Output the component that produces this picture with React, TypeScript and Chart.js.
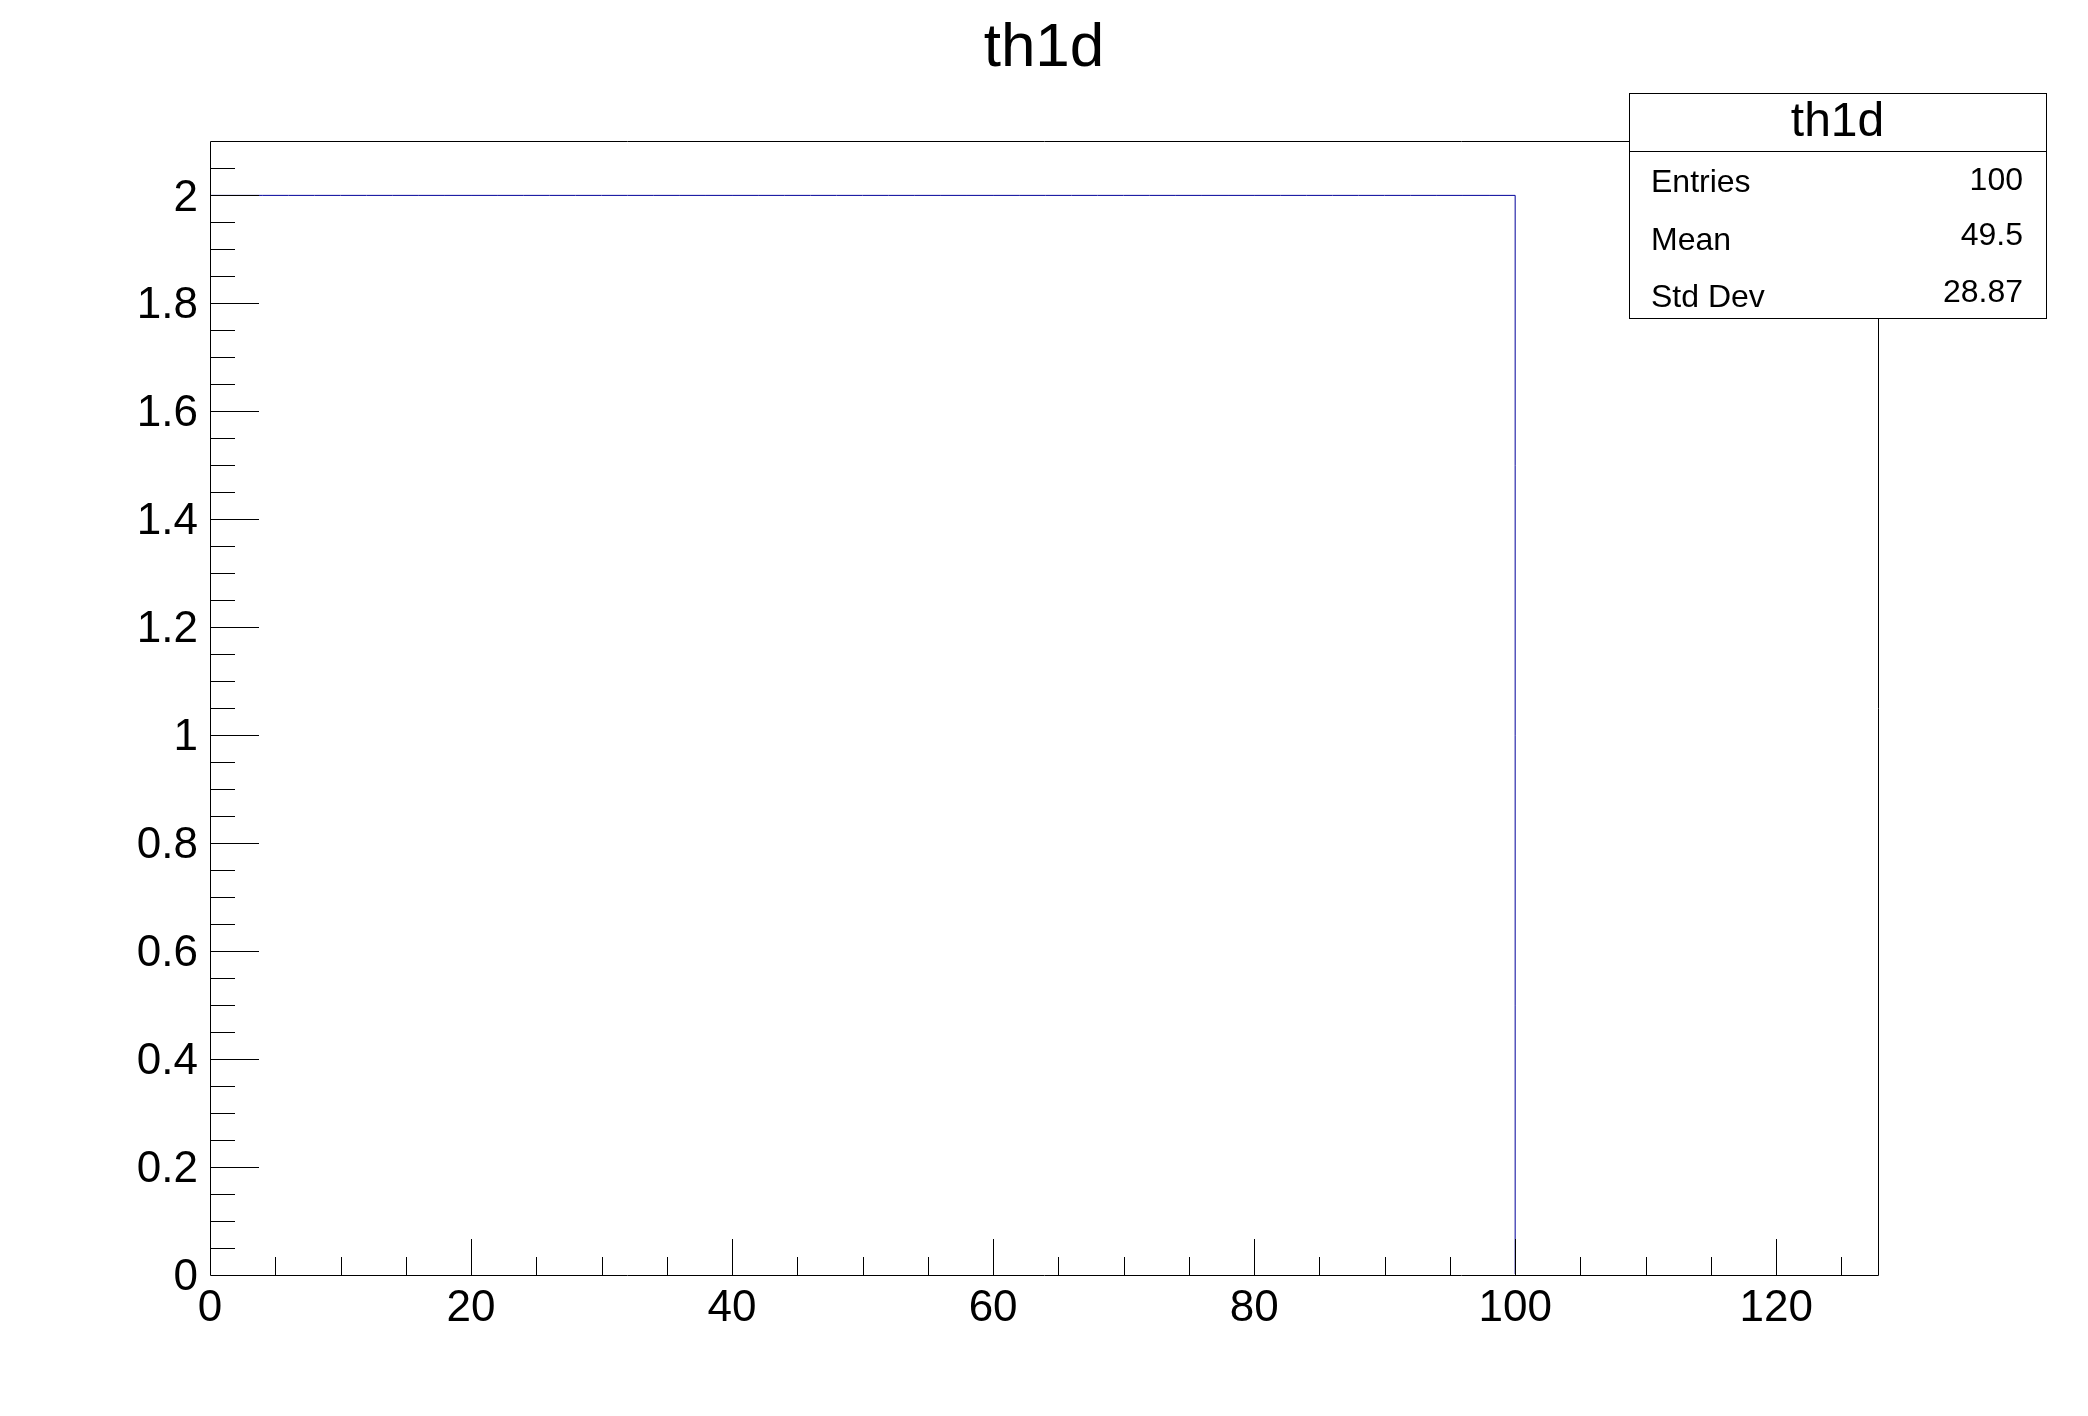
import React, { useEffect, useRef } from "react";
import { Chart, registerables } from "chart.js";

Chart.register(...registerables);

// ---- data ----
const histTitle = "th1d";
const binWidth = 2;
const binContents = [
  2, 2, 2, 2, 2, 2, 2, 2, 2, 2,
  2, 2, 2, 2, 2, 2, 2, 2, 2, 2,
  2, 2, 2, 2, 2, 2, 2, 2, 2, 2,
  2, 2, 2, 2, 2, 2, 2, 2, 2, 2,
  2, 2, 2, 2, 2, 2, 2, 2, 2, 2,
  0, 0, 0, 0, 0, 0, 0, 0, 0, 0,
  0, 0, 0, 0,
];
const xMajorTicks = [0, 20, 40, 60, 80, 100, 120];
const xTickLabels = ["0", "20", "40", "60", "80", "100", "120"];
const yMajorTicks = [0, 0.2, 0.4, 0.6, 0.8, 1, 1.2, 1.4, 1.6, 1.8, 2];
const yTickLabels = ["0", "0.2", "0.4", "0.6", "0.8", "1", "1.2", "1.4", "1.6", "1.8", "2"];
const statsLabels = ["Entries", "Mean", "Std Dev"];
const statsValues = ["100", "49.5", "28.87"];
const xRange = [0, 127.8];
const yRange = [0, 2.1];

const FONT = "'Liberation Sans', Arial, Helvetica, sans-serif";

function withMinor(majors: number[], div: number, min: number, max: number) {
  const step = (majors[1] - majors[0]) / div;
  const out: { value: number; major: boolean }[] = [];
  const start = majors[0] - Math.floor((majors[0] - min) / step) * step;
  for (let v = start; v <= max + 1e-9; v += step) {
    const r = Math.round(v * 1e6) / 1e6;
    const major = majors.some((m) => Math.abs(m - r) < 1e-6);
    out.push({ value: r, major });
  }
  return out;
}

export default function App() {
  const ref = useRef<HTMLCanvasElement | null>(null);
  useEffect(() => {
    document.body.style.margin = "0";
    const canvas = ref.current!;
    const points = binContents.map((c, i) => ({ x: i * binWidth, y: c }));
    points.push({ x: binContents.length * binWidth, y: 0 });

    const xTicks = withMinor(xMajorTicks, 4, xRange[0], xRange[1]);
    const yTicks = withMinor(yMajorTicks, 4, yRange[0], yRange[1]);

    const framePlugin = {
      id: "rootFrame",
      afterDraw(chart: any) {
        const ctx = chart.ctx;
        const { left, right, top, bottom } = chart.chartArea;
        const xs = chart.scales.x;
        const ys = chart.scales.y;
        ctx.save();
        ctx.strokeStyle = "#000";
        ctx.lineWidth = 1;
        ctx.beginPath();
        ctx.rect(Math.round(left) + 0.5, Math.round(top) + 0.5, Math.round(right - left), Math.round(bottom - top));
        ctx.stroke();
        ctx.beginPath();
        for (const t of xTicks) {
          if (t.value <= xRange[0] || t.value >= xRange[1]) continue;
          const px = Math.round(xs.getPixelForValue(t.value)) + 0.5;
          ctx.moveTo(px, Math.round(bottom));
          ctx.lineTo(px, Math.round(bottom) - (t.major ? 36 : 18));
        }
        for (const t of yTicks) {
          if (t.value <= yRange[0] || t.value >= yRange[1]) continue;
          const py = Math.round(ys.getPixelForValue(t.value)) + 0.5;
          ctx.moveTo(Math.round(left), py);
          ctx.lineTo(Math.round(left) + (t.major ? 49 : 25), py);
        }
        ctx.stroke();

        // stats box
        const bx = 1629, by = 93, bw = 417, bh = 225, dy = 151;
        ctx.fillStyle = "#fff";
        ctx.fillRect(bx, by, bw, bh);
        ctx.strokeRect(bx + 0.5, by + 0.5, bw, bh);
        ctx.beginPath();
        ctx.moveTo(bx, dy + 0.5);
        ctx.lineTo(bx + bw, dy + 0.5);
        ctx.stroke();
        ctx.fillStyle = "#000";
        ctx.textBaseline = "middle";
        ctx.textAlign = "center";
        ctx.font = `48px ${FONT}`;
        ctx.fillText(histTitle, bx + bw / 2, 123);
        ctx.font = `32px ${FONT}`;
        ctx.textBaseline = "alphabetic";
        const labelBase = [192, 250, 307];
        const valueBase = [190, 245, 302];
        statsLabels.forEach((l, i) => {
          ctx.textAlign = "left";
          ctx.fillText(l, 1651, labelBase[i]);
          ctx.textAlign = "right";
          ctx.fillText(statsValues[i], 2023, valueBase[i]);
        });
        ctx.restore();
      },
    };

    const chart = new Chart(canvas, {
      type: "line",
      data: {
        datasets: [
          {
            data: points,
            borderColor: "#000099",
            borderWidth: 1,
            pointRadius: 0,
            fill: false,
            stepped: "before",
            clip: { left: 0, top: 0, right: 0, bottom: -1 },
          },
        ],
      },
      options: {
        animation: false,
        responsive: false,
        maintainAspectRatio: false,
        layout: { padding: 0 },
        plugins: {
          legend: { display: false },
          tooltip: { enabled: false },
          title: {
            display: true,
            text: histTitle,
            color: "#000",
            font: { family: FONT, size: 62, weight: "normal" },
            padding: { top: 12, bottom: 55 },
          },
        },
        scales: {
          x: {
            type: "linear",
            min: xRange[0],
            max: xRange[1],
            grid: { display: false, drawTicks: false },
            border: { display: false },
            afterBuildTicks: (s: any) => {
              s.ticks = xMajorTicks.map((v) => ({ value: v }));
            },
            afterFit: (s: any) => {
              s.height = 141;
            },
            ticks: {
              color: "#000",
              font: { family: FONT, size: 44 },
              padding: 7,
              maxRotation: 0,
              autoSkip: false,
              callback: (v: any) => {
                const i = xMajorTicks.findIndex((m) => Math.abs(m - Number(v)) < 1e-6);
                return i >= 0 ? xTickLabels[i] : "";
              },
            },
          },
          y: {
            type: "linear",
            min: yRange[0],
            max: yRange[1],
            grid: { display: false, drawTicks: false },
            border: { display: false },
            afterBuildTicks: (s: any) => {
              s.ticks = yMajorTicks.map((v) => ({ value: v }));
            },
            afterFit: (s: any) => {
              s.width = 210;
            },
            ticks: {
              color: "#000",
              font: { family: FONT, size: 44 },
              padding: 12,
              labelOffset: 3,
              autoSkip: false,
              callback: (v: any) => {
                const i = yMajorTicks.findIndex((m) => Math.abs(m - Number(v)) < 1e-6);
                return i >= 0 ? yTickLabels[i] : "";
              },
            },
          },
          yRight: {
            type: "linear",
            position: "right",
            display: true,
            min: 0,
            max: 1,
            grid: { display: false, drawTicks: false },
            border: { display: false },
            ticks: { display: false },
            afterFit: (s: any) => {
              s.width = 210;
            },
          },
        },
      },
      plugins: [framePlugin],
    } as any);
    return () => chart.destroy();
  }, []);
  return (
    <div style={{ position: "absolute", left: 0, top: 0, width: 2088, height: 1416, background: "#fff" }}>
      <canvas ref={ref} width={2088} height={1416} style={{ width: 2088, height: 1416 }} />
    </div>
  );
}
